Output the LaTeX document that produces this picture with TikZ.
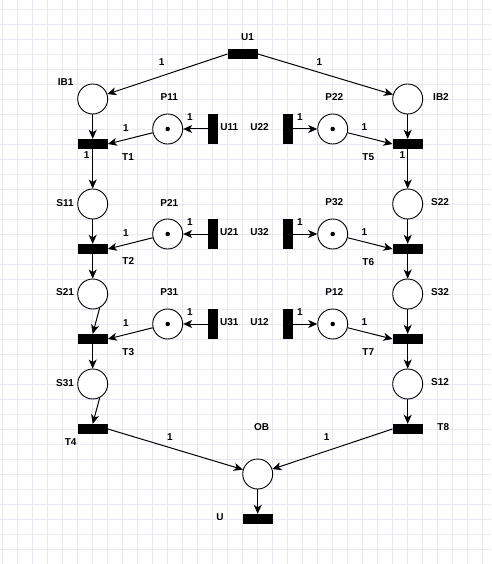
\documentclass[tikz,border=0pt]{standalone}
\usepackage{fontspec}
\setmainfont{Liberation Sans}
\usetikzlibrary{arrows.meta}
\begin{document}
\begin{tikzpicture}[x=1pt,y=-1pt,
  place/.style={circle, draw, line width=0.9pt, minimum size=30pt, inner sep=0pt, fill=white},
  hbar/.style={rectangle, fill=black, minimum width=30pt, minimum height=10pt, inner sep=0pt},
  vbar/.style={rectangle, fill=black, minimum width=10pt, minimum height=30pt, inner sep=0pt},
  lbl/.style={font=\bfseries\fontsize{10}{12}\selectfont, inner sep=0pt},
  tok/.style={circle, fill=black, minimum size=4.5pt, inner sep=0pt},
  arc/.style={line width=1pt, -{Stealth[length=9pt,width=8pt,inset=2.5pt]}},
  gridline/.style={draw=gridc, line width=0.7pt}]
\definecolor{gridc}{RGB}{232,232,246}
\fill[white] (0,0) rectangle (491,564);
\useasboundingbox (0,0) rectangle (491,564);
\foreach \i in {0,...,32} \draw[gridline] (2.7+15*\i,0) -- ++(0,564);
\foreach \j in {0,...,37} \draw[gridline] (0,9+15*\j) -- ++(491,0);

% top
\node[hbar] (U1) at (242.7,54) {};
\node[lbl] (lU1) at (247.5,37) {U1};
% left column
\node[place] (IB1) at (92.7,99) {};
\node[hbar] (T1) at (92.7,144) {};
\node[place] (S11) at (92.7,204) {};
\node[hbar] (T2) at (92.7,249) {};
\node[place] (S21) at (92.7,294) {};
\node[hbar] (T3) at (92.7,339) {};
\node[place] (S31) at (92.7,384) {};
\node[hbar] (T4) at (92.7,429) {};
% right column
\node[place] (IB2) at (407.7,99) {};
\node[hbar] (T5) at (407.7,144) {};
\node[place] (S22) at (407.7,204) {};
\node[hbar] (T6) at (407.7,249) {};
\node[place] (S32) at (407.7,294) {};
\node[hbar] (T7) at (407.7,339) {};
\node[place] (S12) at (407.7,384) {};
\node[hbar] (T8) at (407.7,429) {};
% resource places
\node[place] (P11) at (167.7,129) {};
\node[place] (P21) at (167.7,234) {};
\node[place] (P31) at (167.7,324) {};
\node[place] (P22) at (332.7,129) {};
\node[place] (P32) at (332.7,234) {};
\node[place] (P12) at (332.7,324) {};
\foreach \p in {P11,P21,P31,P22,P32,P12} \node[tok] (tok\p) at (\p) {};
\node[vbar] (U11) at (212.7,129) {};
\node[vbar] (U21) at (212.7,234) {};
\node[vbar] (U31) at (212.7,324) {};
\node[vbar] (U22) at (287.7,129) {};
\node[vbar] (U32) at (287.7,234) {};
\node[vbar] (U12) at (287.7,324) {};
% output
\node[place] (OB) at (257.7,474) {};
\node[hbar] (U) at (257.7,519) {};

% arcs
\draw[arc] (U1.west) -- (IB1);
\draw[arc] (U1.east) -- (IB2);
\draw[arc] (IB1) -- (T1.north);
\draw[arc] (T1) -- (S11);
\draw[arc] (S11) -- (T2.north);
\draw[arc] (T2) -- (S21);
\draw[arc] (S21.-63) -- (T3.north);
\draw[arc] (T3) -- (S31);
\draw[arc] (S31.-63) -- (T4.north);
\draw[arc] (IB2) -- (T5.north);
\draw[arc] (T5) -- (S22);
\draw[arc] (S22) -- (T6.north);
\draw[arc] (T6) -- (S32);
\draw[arc] (S32) -- (T7.north);
\draw[arc] (T7) -- (S12);
\draw[arc] (S12) -- (T8.north);
\draw[arc] (U11.west) -- (P11);
\draw[arc] (U21.west) -- (P21);
\draw[arc] (U31.west) -- (P31);
\draw[arc] (U22.east) -- (P22);
\draw[arc] (U32.east) -- (P32);
\draw[arc] (U12.east) -- (P12);
\draw[arc] (P11) -- (T1.east);
\draw[arc] (P21) -- (T2.east);
\draw[arc] (P31) -- (T3.east);
\draw[arc] (P22) -- (T5.west);
\draw[arc] (P32) -- (T6.west);
\draw[arc] (P12) -- (T7.west);
\draw[arc] (T4.east) -- (OB);
\draw[arc] (T8.west) -- (OB);
\draw[arc] (OB) -- (U.north);

% labels
\node[lbl] (lIB1) at (65.7,81.7) {IB1};
\node[lbl] (lIB2) at (441,96.7) {IB2};
\node[lbl] (wA1) at (161.7,61.7) {1};
\node[lbl] (wA2) at (319.3,61.7) {1};
\node[lbl] (lP11) at (169.3,96.7) {P11};
\node[lbl] (lP22) at (334.3,96.7) {P22};
\node[lbl] (lP21) at (169.3,202.7) {P21};
\node[lbl] (lP32) at (334.3,201.7) {P32};
\node[lbl] (lP31) at (169.3,291.7) {P31};
\node[lbl] (lP12) at (334.3,291.7) {P12};
\node[lbl] (lU11) at (229.3,126.7) {U11};
\node[lbl] (lU21) at (229.3,231.7) {U21};
\node[lbl] (lU31) at (229.3,321.7) {U31};
\node[lbl] (lU22) at (259.5,126.7) {U22};
\node[lbl] (lU32) at (259.5,231.7) {U32};
\node[lbl] (lU12) at (259.5,321.7) {U12};
\node[lbl] (wU11) at (190,116.7) {1};
\node[lbl] (wU21) at (190,221.7) {1};
\node[lbl] (wU31) at (190,311.7) {1};
\node[lbl] (wU22) at (300,116.7) {1};
\node[lbl] (wU32) at (300,221.7) {1};
\node[lbl] (wU12) at (300,311.7) {1};
\node[lbl] (wP11) at (126,127.7) {1};
\node[lbl] (wP21) at (126,232.7) {1};
\node[lbl] (wP31) at (126,322.7) {1};
\node[lbl] (wP22) at (364.3,126.7) {1};
\node[lbl] (wP32) at (364.3,231.7) {1};
\node[lbl] (wP12) at (364.3,321.7) {1};
\node[lbl] (wT1) at (86.7,155) {1};
\node[lbl] (wT5) at (402.3,155) {1};
\node[lbl] (lT1) at (128,156.7) {T1};
\node[lbl] (lT2) at (128.3,261) {T2};
\node[lbl] (lT3) at (128.3,351.7) {T3};
\node[lbl] (lT4) at (70.7,441.7) {T4};
\node[lbl] (lT5) at (368.3,156.7) {T5};
\node[lbl] (lT6) at (368.3,261.7) {T6};
\node[lbl] (lT7) at (368.3,351.7) {T7};
\node[lbl] (lT8) at (443.3,426.7) {T8};
\node[lbl] (lS11) at (65,202.7) {S11};
\node[lbl] (lS21) at (65,291.7) {S21};
\node[lbl] (lS31) at (65,383.3) {S31};
\node[lbl] (lS22) at (440,201.7) {S22};
\node[lbl] (lS32) at (440,291.7) {S32};
\node[lbl] (lS12) at (440,381.7) {S12};
\node[lbl] (lOB) at (261.7,426.7) {OB};
\node[lbl] (wT4) at (170,436.7) {1};
\node[lbl] (wT8) at (326.7,436.7) {1};
\node[lbl] (lU) at (220,516.7) {U};
\end{tikzpicture}
\end{document}
